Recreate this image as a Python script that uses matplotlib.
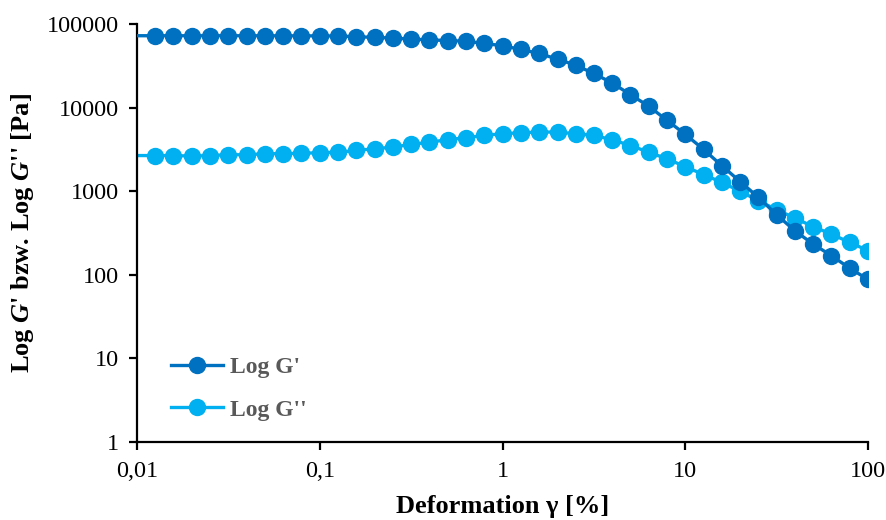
import numpy as np
import matplotlib
matplotlib.use("Agg")
import matplotlib.pyplot as plt
from matplotlib.ticker import FixedLocator, FixedFormatter, NullLocator

plt.rcParams['font.family'] = ['Liberation Serif', 'DejaVu Serif']
plt.rcParams['mathtext.fontset'] = 'custom'
plt.rcParams['mathtext.it'] = 'Liberation Serif:italic:bold'
plt.rcParams['mathtext.rm'] = 'Liberation Serif:bold'
plt.rcParams['mathtext.bf'] = 'Liberation Serif:bold'

# strain sweep, 10 points per decade (first point lies just below 0.01 %)
strain = [0.00794, 0.0126, 0.0158, 0.02, 0.0251, 0.0316, 0.0398, 0.0501, 0.0631, 0.0794,
          0.1, 0.126, 0.158, 0.2, 0.251, 0.316, 0.398, 0.501, 0.631, 0.794,
          1.0, 1.26, 1.58, 2.0, 2.51, 3.16, 3.98, 5.01, 6.31, 7.94,
          10.0, 12.6, 15.8, 20.0, 25.1, 31.6, 39.8, 50.1, 63.1, 79.4, 100.0]

g_storage = [72500, 72400, 72400, 72400, 72400, 72400, 72400, 72300, 72300, 72200,
             72100, 71800, 70500, 69200, 67900, 66100, 64600, 63500, 62200, 58700,
             54900, 49700, 44500, 38000, 32200, 25600, 19700, 14300, 10400, 7050,
             4790, 3160, 2030, 1300, 845, 524, 336, 233, 169, 120, 88]

g_loss = [2670, 2670, 2670, 2630, 2670, 2730, 2730, 2810, 2810, 2850,
          2880, 2930, 3070, 3220, 3370, 3630, 3860, 4130, 4370, 4650,
          4870, 5010, 5100, 5100, 4870, 4650, 4130, 3520, 2930, 2440,
          1970, 1580, 1280, 997, 771, 601, 478, 376, 307, 244, 195]

x_ticks = [0.01, 0.1, 1, 10, 100]
x_tick_labels = ["0,01", "0,1", "1", "10", "100"]
y_ticks = [1, 10, 100, 1000, 10000, 100000]
y_tick_labels = ["1", "10", "100", "1000", "10000", "100000"]

fig = plt.figure(figsize=(8.87, 5.2), dpi=100)
ax = fig.add_axes([0.1545, 0.15, 0.8241, 0.8038])

ax.plot(strain, g_storage, color='#0070C0', lw=2.4, marker='o', ms=11.5,
        label="Log G'", zorder=3)
ax.plot(strain, g_loss, color='#00B0F0', lw=2.4, marker='o', ms=11.5,
        label="Log G''", zorder=2)

ax.set_xscale('log')
ax.set_yscale('log')
ax.set_xlim(0.01, 100)
ax.set_ylim(1, 100000)

ax.xaxis.set_major_locator(FixedLocator(x_ticks))
ax.xaxis.set_major_formatter(FixedFormatter(x_tick_labels))
ax.xaxis.set_minor_locator(NullLocator())
ax.yaxis.set_major_locator(FixedLocator(y_ticks))
ax.yaxis.set_major_formatter(FixedFormatter(y_tick_labels))
ax.yaxis.set_minor_locator(NullLocator())

for s in ['top', 'right']:
    ax.spines[s].set_visible(False)
for s in ['left', 'bottom']:
    ax.spines[s].set_linewidth(1.6)
    ax.spines[s].set_color('black')

ax.tick_params(axis='both', direction='out', length=6, width=1.6,
               labelsize=17.5, colors='black')
ax.tick_params(axis='x', pad=8)
ax.tick_params(axis='y', pad=7)

ax.set_xlabel("Deformation γ [%]", fontsize=19, fontweight='bold', labelpad=9)
ax.set_ylabel("Log $G$' bzw. Log $G$'' [Pa]", fontsize=19, fontweight='bold',
              labelpad=8)

leg = ax.legend(loc='lower left', bbox_to_anchor=(0.018, 0.0), frameon=False,
                handlelength=2.2, handletextpad=0.3,
                labelspacing=0.9, prop={'weight': 'bold', 'size': 17})
for t in leg.get_texts():
    t.set_color('#595959')

fig.savefig('out.png', dpi=100)
